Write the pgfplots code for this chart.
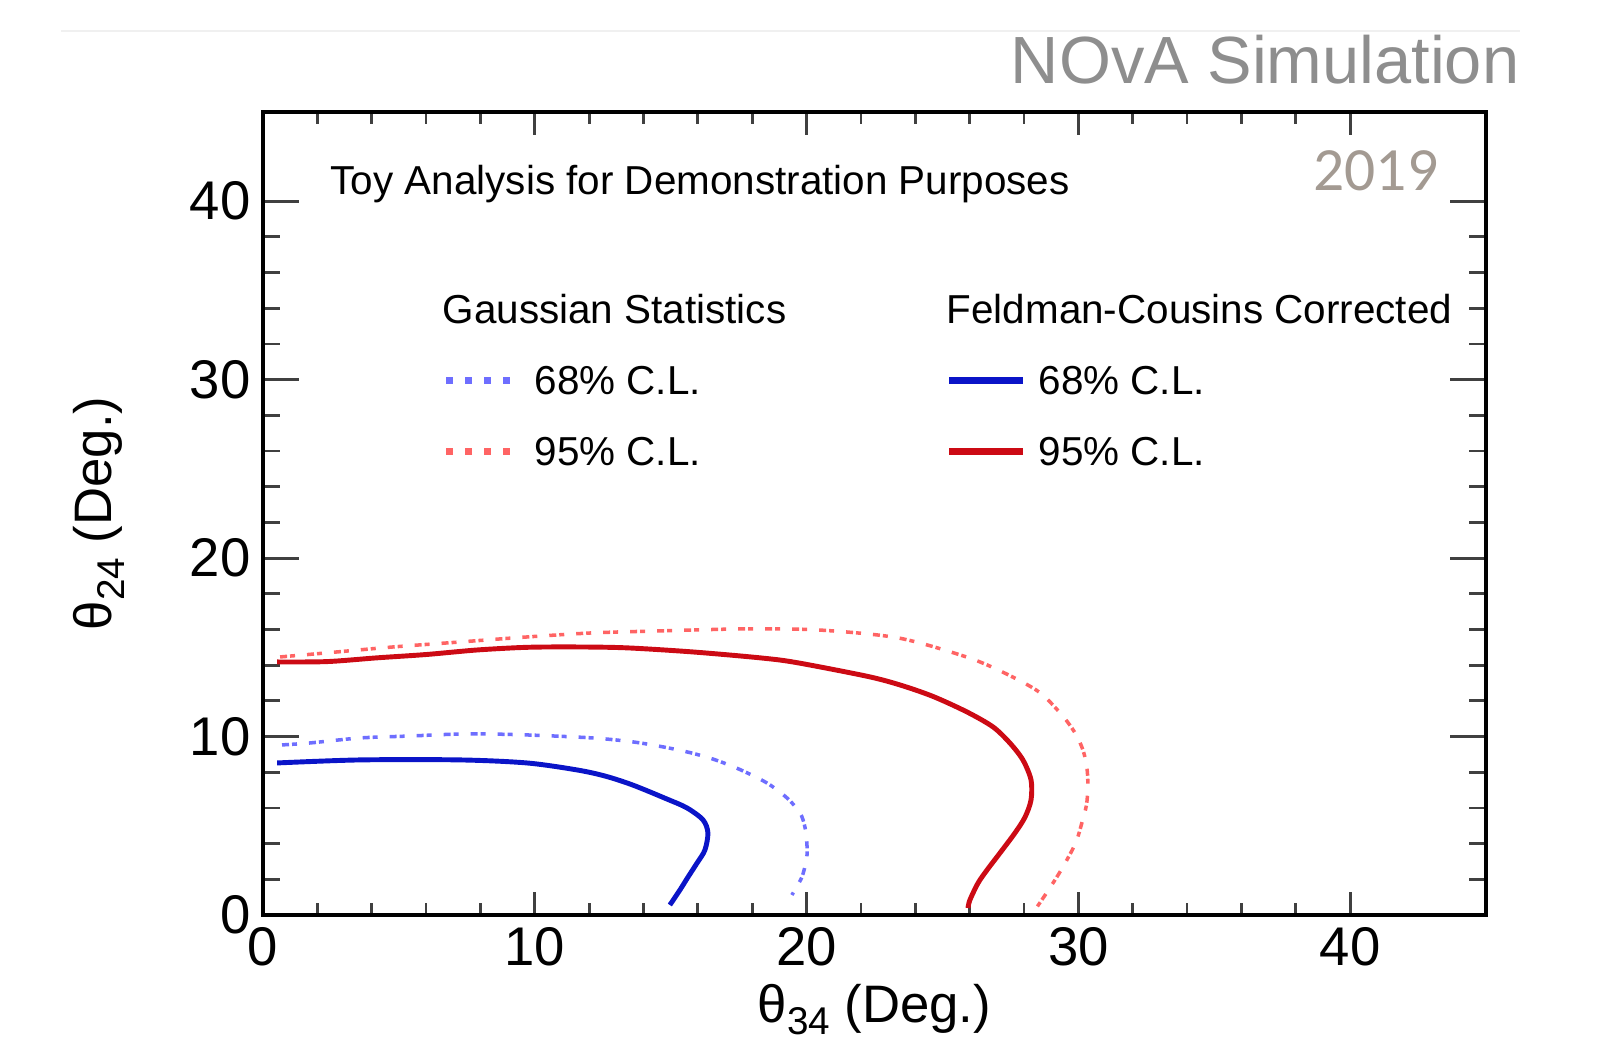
\documentclass[border=0pt]{standalone}
\usepackage{fontspec}
\setmainfont{Liberation Sans}
\newfontfamily\carlito{Carlito}
\usepackage{pgfplots}
\pgfplotsset{compat=1.18}
\definecolor{fcblue}{HTML}{0A14C8}
\definecolor{fcred}{HTML}{CC0A14}
\definecolor{gblue}{HTML}{6E6EFF}
\definecolor{gred}{HTML}{FF6464}
\definecolor{yeargray}{HTML}{A39A92}
\definecolor{novagray}{HTML}{8E8E8E}
\begin{document}
\begin{tikzpicture}[x=1cm,y=1cm]
\path[use as bounding box] (0,0) rectangle (16,10.46);
\draw[black!6, line width=0.6pt] (0.61,10.15) -- (15.2,10.15);
\begin{axis}[
  at={(2.63cm,1.31cm)}, anchor=south west,
  scale only axis, width=12.23cm, height=8.03cm,
  xmin=0, xmax=45, ymin=0, ymax=45,
  xtick={0,10,...,40}, ytick={0,10,...,40},
  minor x tick num=4, minor y tick num=4,
  tick align=inside,
  axis line style={line width=1.4pt},
  every tick/.style={black!75, line width=0.8pt},
  xtick style={/pgfplots/major tick length=0.23cm,/pgfplots/minor tick length=0.12cm},
  ytick style={/pgfplots/major tick length=0.36cm,/pgfplots/minor tick length=0.17cm},
  /pgf/number format/assume math mode=true,
  tick label style={font=\fontsize{15.5}{18}\selectfont},
  xlabel={θ\raisebox{-0.45ex}{\fontsize{11}{12}\selectfont 34} (Deg.)},
  ylabel={θ\raisebox{-0.45ex}{\fontsize{11}{12}\selectfont 24} (Deg.)},
  label style={font=\fontsize{15}{18}\selectfont},
  xlabel style={at={(axis description cs:0.5,-0.118)}, anchor=center},
  ylabel style={at={(axis description cs:-0.134,0.5)}, anchor=center},
]
% Gaussian 95% C.L.
\addplot[gred, line width=1.0pt, dash pattern=on 0.07cm off 0.03cm on 0.05cm off 0.12cm, smooth, tension=0.5] coordinates {
(0.63,14.46) (2.35,14.69) (4.78,15.02) (7.25,15.30) (9.71,15.58) (12.14,15.81)
(14.61,15.92) (17.66,16.03) (20.35,15.98) (23.36,15.53) (25.90,14.45)
(27.30,13.55) (28.55,12.50) (29.40,11.20) (29.90,10.15) (30.18,9.20) (30.32,8.20)
(30.35,7.17) (30.30,6.17) (30.13,5.16) (29.92,4.10) (29.62,3.20) (29.30,2.35)
(28.88,1.35) (28.48,0.45)};
% Gaussian 68% C.L.
\addplot[gblue, line width=1.0pt, dash pattern=on 0.07cm off 0.03cm on 0.05cm off 0.12cm, smooth, tension=0.5] coordinates {
(0.70,9.53) (1.73,9.64) (3.57,9.92) (5.41,10.03) (7.51,10.15) (9.71,10.09)
(12.14,9.92) (13.61,9.70) (14.72,9.42) (15.71,9.10) (16.63,8.70) (17.55,8.15)
(18.54,7.40) (19.28,6.56) (19.76,5.72) (19.94,4.93) (20.01,4.04) (20.01,3.25)
(19.83,2.13) (19.46,1.12)};
% FC 95% C.L.
\addplot[fcred, line width=1.4pt, smooth, tension=0.5] coordinates {
(0.52,14.18) (2.35,14.20) (4.19,14.41) (6.03,14.60) (7.87,14.85) (9.71,15.00)
(11.55,15.02) (13.39,14.97) (15.82,14.74) (18.29,14.41) (19.61,14.15)
(22.22,13.38) (23.44,12.89) (24.65,12.25) (25.90,11.38) (26.86,10.54)
(27.48,9.64) (27.96,8.69) (28.26,7.57) (28.26,6.45) (28.04,5.49) (27.67,4.60)
(27.12,3.48) (26.64,2.52) (26.31,1.79) (26.01,0.84) (25.94,0.39)};
% FC 68% C.L.
\addplot[fcblue, line width=1.4pt, smooth, tension=0.5] coordinates {
(0.52,8.52) (3.57,8.69) (7.25,8.69) (9.71,8.52) (11.55,8.13) (12.60,7.78)
(13.61,7.28) (14.86,6.50) (15.60,6.00) (16.19,5.33) (16.37,4.60) (16.26,3.64)
(15.97,2.91) (15.64,2.13) (15.34,1.40) (14.97,0.56)};
\end{axis}
% titles
\node[anchor=base east, inner sep=0, text=novagray, font=\fontsize{19}{22}\selectfont] at (15.20,9.62) {NOvA Simulation};
\node[anchor=base east, inner sep=0, text=yeargray, font=\carlito\fontsize{17.5}{20}\selectfont] at (14.39,8.55) {2019};
\node[anchor=west, inner sep=0, font=\fontsize{11.5}{13}\selectfont] at (3.30,8.62) {Toy Analysis for Demonstration Purposes};
% legend
\node[anchor=west, inner sep=0, font=\fontsize{11.5}{13}\selectfont] at (4.42,7.37) {Gaussian Statistics};
\node[anchor=west, inner sep=0, font=\fontsize{11.5}{13}\selectfont] at (9.46,7.37) {Feldman-Cousins Corrected};
\draw[gblue, line width=2pt, dash pattern=on 0.07cm off 0.12cm] (4.46,6.65) -- (5.22,6.65);
\draw[gred, line width=2pt, dash pattern=on 0.07cm off 0.12cm] (4.46,5.94) -- (5.22,5.94);
\draw[fcblue, line width=2pt] (9.49,6.65) -- (10.23,6.65);
\draw[fcred, line width=2pt] (9.49,5.94) -- (10.23,5.94);
\node[anchor=west, inner sep=0, font=\fontsize{11.5}{13}\selectfont] at (5.34,6.65) {68\% C.L.};
\node[anchor=west, inner sep=0, font=\fontsize{11.5}{13}\selectfont] at (5.34,5.94) {95\% C.L.};
\node[anchor=west, inner sep=0, font=\fontsize{11.5}{13}\selectfont] at (10.38,6.65) {68\% C.L.};
\node[anchor=west, inner sep=0, font=\fontsize{11.5}{13}\selectfont] at (10.38,5.94) {95\% C.L.};
\end{tikzpicture}
\end{document}
